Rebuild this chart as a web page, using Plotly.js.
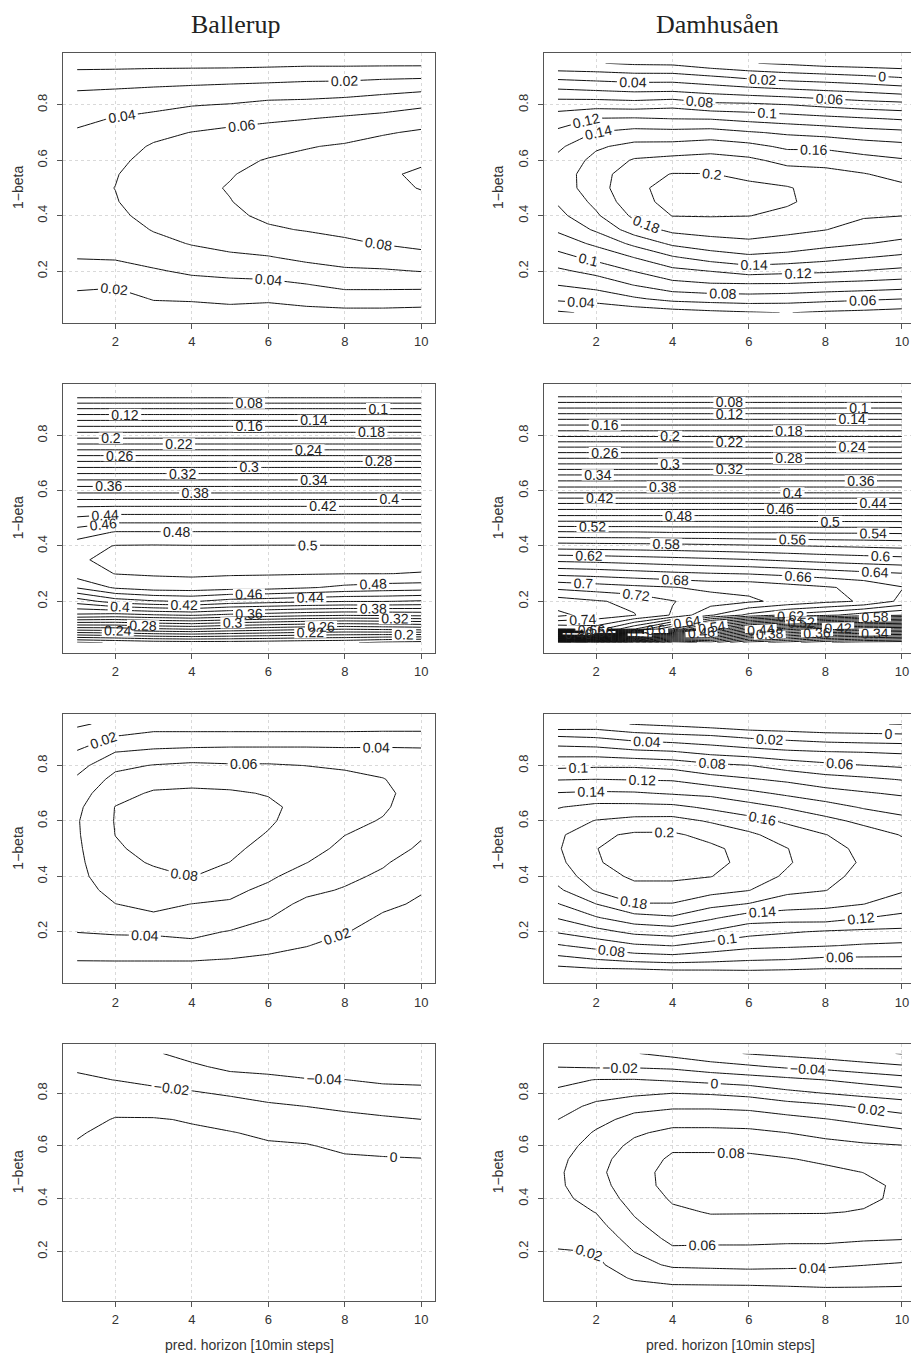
<!DOCTYPE html>
<html><head><meta charset="utf-8">
<script src="https://cdn.plot.ly/plotly-3.0.1.min.js"></script>
<style>html,body{margin:0;padding:0;background:#fff}#chart{width:911px;height:1358px}</style>
</head><body><div id="chart"></div>
<script>
// ---------------- data ----------------
const HORIZON = [1, 2, 3, 4, 5, 6, 7, 8, 9, 10];
const ONE_MINUS_BETA = [0.05, 0.10, 0.15, 0.20, 0.25, 0.30, 0.35, 0.40, 0.45, 0.50,
                        0.55, 0.60, 0.65, 0.70, 0.75, 0.80, 0.85, 0.90, 0.95];
const STATIONS = ['Ballerup', 'Damhusåen'];
const X_TICKS = [2, 4, 6, 8, 10];
const Y_TICKS = [0.2, 0.4, 0.6, 0.8];
const LEVEL_STEP = 0.02;
const X_TITLE = 'pred. horizon [10min steps]';
const Y_TITLE = '1\u2212beta';

// rows = 1-beta (0.05 .. 0.95), columns = horizon (1 .. 10)
const zBallerup1 = [
[0.006,0.006,0.012,0.012,0.014,0.012,0.014,0.015,0.015,0.014],
[0.015,0.013,0.021,0.022,0.024,0.023,0.027,0.030,0.030,0.029],
[0.0235,0.022,0.029,0.033,0.034,0.034,0.039,0.045,0.045,0.045],
[0.032,0.032,0.038,0.043,0.046,0.049,0.053,0.057,0.058,0.0605],
[0.041,0.042,0.047,0.053,0.057,0.059,0.064,0.068,0.070,0.075],
[0.045,0.048,0.055,0.061,0.065,0.069,0.073,0.077,0.081,0.084],
[0.049,0.052,0.061,0.067,0.072,0.078,0.081,0.084,0.088,0.090],
[0.052,0.056,0.066,0.072,0.077,0.083,0.086,0.090,0.093,0.094],
[0.054,0.059,0.069,0.075,0.0795,0.086,0.089,0.093,0.096,0.097],
[0.055,0.0602,0.070,0.076,0.081,0.087,0.090,0.094,0.097,0.1005],
[0.053,0.059,0.069,0.075,0.079,0.085,0.088,0.092,0.098,0.102],
[0.050,0.056,0.066,0.072,0.076,0.081,0.084,0.088,0.094,0.098],
[0.046,0.052,0.062,0.067,0.071,0.075,0.079,0.082,0.088,0.092],
[0.042,0.047,0.055,0.0605,0.064,0.067,0.070,0.073,0.078,0.083],
[0.036,0.041,0.045,0.050,0.054,0.057,0.0595,0.063,0.066,0.070],
[0.028,0.032,0.035,0.039,0.041,0.045,0.046,0.048,0.052,0.057],
[0.0202,0.022,0.024,0.026,0.028,0.030,0.031,0.033,0.036,0.039],
[0.007,0.008,0.010,0.011,0.012,0.013,0.015,0.015,0.017,0.018],
[-0.006,-0.006,-0.006,-0.006,-0.006,-0.005,-0.004,-0.004,-0.004,-0.004]
];
const zDamhus1 = [
[0.017,0.024,0.027,0.031,0.035,0.038,0.0405,0.037,0.035,0.032],
[0.044,0.047,0.057,0.066,0.069,0.071,0.069,0.066,0.063,0.0602],
[0.0603,0.067,0.0805,0.093,0.097,0.097,0.097,0.094,0.092,0.089],
[0.076,0.086,0.1005,0.114,0.1203,0.128,0.125,0.123,0.119,0.115],
[0.093,0.106,0.1205,0.138,0.149,0.156,0.153,0.147,0.141,0.136],
[0.109,0.124,0.145,0.164,0.172,0.176,0.172,0.166,0.161,0.156],
[0.123,0.143,0.170,0.185,0.188,0.189,0.185,0.1805,0.172,0.169],
[0.134,0.157,0.184,0.2005,0.201,0.2003,0.196,0.188,0.182,0.1802],
[0.142,0.165,0.193,0.206,0.208,0.207,0.202,0.194,0.189,0.187],
[0.149,0.171,0.196,0.206,0.208,0.204,0.2015,0.192,0.188,0.184],
[0.1495,0.171,0.192,0.2008,0.2005,0.196,0.189,0.186,0.181,0.174],
[0.145,0.166,0.182,0.186,0.188,0.184,0.174,0.173,0.167,0.162],
[0.136,0.157,0.166,0.167,0.171,0.166,0.156,0.156,0.150,0.146],
[0.124,0.141,0.147,0.146,0.148,0.142,0.137,0.133,0.128,0.125],
[0.110,0.121,0.122,0.1198,0.119,0.114,0.110,0.106,0.102,0.098],
[0.091,0.092,0.090,0.094,0.085,0.084,0.0805,0.075,0.070,0.067],
[0.064,0.061,0.058,0.059,0.054,0.049,0.045,0.041,0.037,0.032],
[0.035,0.032,0.029,0.029,0.023,0.016,0.011,0.008,0.004,-0.001],
[0.002,0.001,-0.003,-0.004,-0.013,-0.019,-0.023,-0.028,-0.030,-0.032]
];
const zBallerup2 = [
[0.136,0.142,0.148,0.150,0.150,0.148,0.145,0.143,0.135,0.130],
[0.250,0.252,0.258,0.262,0.255,0.250,0.245,0.242,0.245,0.248],
[0.356,0.352,0.358,0.362,0.355,0.350,0.345,0.342,0.343,0.345],
[0.409,0.430,0.438,0.442,0.432,0.428,0.424,0.421,0.421,0.418],
[0.462,0.483,0.490,0.491,0.488,0.487,0.482,0.476,0.472,0.470],
[0.490,0.5005,0.502,0.503,0.502,0.5015,0.501,0.5003,0.5002,0.4995],
[0.497,0.506,0.507,0.507,0.507,0.506,0.506,0.505,0.505,0.504],
[0.490,0.501,0.5015,0.501,0.501,0.5012,0.5012,0.501,0.5008,0.5008],
[0.469,0.4812,0.4812,0.4812,0.4812,0.4812,0.4812,0.4812,0.4812,0.4812],
[0.443,0.4497,0.4497,0.4497,0.4497,0.4497,0.4497,0.4497,0.4497,0.4497],
[0.4155,0.4155,0.4155,0.4155,0.4155,0.4155,0.4155,0.4155,0.4155,0.4155],
[0.373,0.373,0.373,0.373,0.373,0.373,0.373,0.373,0.373,0.373],
[0.3308,0.3308,0.3308,0.3308,0.3308,0.3308,0.3308,0.3308,0.3308,0.3308],
[0.2857,0.2857,0.2857,0.2857,0.2857,0.2857,0.2857,0.2857,0.2857,0.2857],
[0.238,0.238,0.238,0.238,0.238,0.238,0.238,0.238,0.238,0.238],
[0.1905,0.1905,0.1905,0.1905,0.1905,0.1905,0.1905,0.1905,0.1905,0.1905],
[0.144,0.144,0.144,0.144,0.144,0.144,0.144,0.144,0.144,0.144],
[0.097,0.097,0.097,0.097,0.097,0.097,0.097,0.097,0.097,0.097],
[0.046,0.046,0.046,0.046,0.046,0.046,0.046,0.046,0.046,0.046]
];
const zDamhus2 = [
[0.004,0.050,0.183,0.302,0.330,0.270,0.250,0.222,0.210,0.203],
[0.703,0.710,0.662,0.598,0.522,0.462,0.430,0.410,0.402,0.398],
[0.765,0.752,0.741,0.718,0.682,0.655,0.635,0.625,0.610,0.602],
[0.750,0.742,0.735,0.721,0.710,0.703,0.695,0.685,0.678,0.655],
[0.715,0.710,0.705,0.701,0.695,0.695,0.688,0.682,0.675,0.661],
[0.675,0.672,0.668,0.664,0.661,0.659,0.655,0.650,0.645,0.641],
[0.635,0.633,0.630,0.627,0.624,0.621,0.617,0.613,0.610,0.607],
[0.590,0.589,0.588,0.587,0.585,0.583,0.581,0.579,0.577,0.575],
[0.542,0.541,0.541,0.539,0.539,0.538,0.538,0.537,0.537,0.536],
[0.489,0.489,0.489,0.489,0.489,0.489,0.489,0.489,0.489,0.489],
[0.444,0.444,0.444,0.444,0.444,0.444,0.444,0.444,0.444,0.444],
[0.392,0.392,0.392,0.392,0.392,0.392,0.392,0.392,0.392,0.392],
[0.347,0.347,0.347,0.347,0.347,0.347,0.347,0.347,0.347,0.347],
[0.297,0.297,0.297,0.297,0.297,0.297,0.297,0.297,0.297,0.297],
[0.248,0.248,0.248,0.248,0.248,0.248,0.248,0.248,0.248,0.248],
[0.196,0.196,0.196,0.196,0.196,0.196,0.196,0.196,0.196,0.196],
[0.148,0.148,0.148,0.148,0.148,0.148,0.148,0.148,0.148,0.148],
[0.099,0.099,0.099,0.099,0.099,0.099,0.099,0.099,0.099,0.099],
[0.050,0.050,0.050,0.050,0.050,0.050,0.050,0.050,0.050,0.050]
];
const zBallerup3 = [
[0.010,0.012,0.012,0.012,0.011,0.009,0.007,0.005,0.004,0.003],
[0.021,0.021,0.021,0.021,0.0195,0.017,0.014,0.010,0.008,0.006],
[0.030,0.033,0.032,0.036,0.030,0.025,0.0205,0.015,0.012,0.009],
[0.0405,0.042,0.043,0.044,0.039,0.033,0.027,0.0207,0.015,0.012],
[0.045,0.052,0.057,0.052,0.050,0.0405,0.031,0.026,0.018,0.015],
[0.049,0.0598,0.064,0.0598,0.058,0.047,0.036,0.032,0.023,0.018],
[0.052,0.066,0.070,0.071,0.064,0.056,0.044,0.0385,0.030,0.021],
[0.055,0.071,0.076,0.0805,0.071,0.063,0.052,0.044,0.037,0.026],
[0.056,0.075,0.0815,0.085,0.0798,0.069,0.0603,0.051,0.042,0.031],
[0.057,0.078,0.085,0.088,0.084,0.074,0.066,0.056,0.049,0.037],
[0.058,0.0802,0.087,0.090,0.086,0.079,0.070,0.0602,0.055,0.042],
[0.0585,0.081,0.088,0.090,0.087,0.082,0.073,0.064,0.059,0.047],
[0.056,0.0805,0.087,0.088,0.086,0.083,0.075,0.066,0.062,0.052],
[0.051,0.074,0.082,0.083,0.082,0.079,0.073,0.066,0.063,0.054],
[0.043,0.066,0.073,0.075,0.074,0.072,0.068,0.064,0.0605,0.054],
[0.033,0.055,0.061,0.064,0.062,0.062,0.0598,0.058,0.056,0.051],
[0.021,0.0395,0.043,0.045,0.046,0.046,0.046,0.045,0.045,0.044],
[0.010,0.022,0.028,0.028,0.028,0.028,0.028,0.028,0.029,0.029],
[-0.003,0.005,0.010,0.010,0.010,0.010,0.010,0.010,0.010,0.010]
];
const zDamhus3 = [
[0.026,0.029,0.028,0.031,0.032,0.034,0.033,0.032,0.032,0.032],
[0.053,0.0598,0.066,0.069,0.066,0.062,0.0602,0.056,0.056,0.056],
[0.078,0.087,0.097,0.1005,0.092,0.085,0.083,0.081,0.078,0.076],
[0.102,0.113,0.125,0.129,0.118,0.107,0.102,0.098,0.096,0.095],
[0.121,0.138,0.152,0.157,0.143,0.129,0.128,0.129,0.1205,0.115],
[0.139,0.1598,0.179,0.179,0.166,0.159,0.149,0.145,0.1402,0.130],
[0.156,0.182,0.194,0.194,0.187,0.1805,0.165,0.1605,0.149,0.142],
[0.168,0.192,0.203,0.203,0.2005,0.190,0.177,0.165,0.155,0.147],
[0.175,0.198,0.209,0.209,0.205,0.195,0.182,0.168,0.158,0.148],
[0.178,0.1995,0.209,0.208,0.204,0.193,0.1805,0.166,0.156,0.146],
[0.176,0.196,0.203,0.203,0.194,0.184,0.170,0.1605,0.150,0.139],
[0.169,0.181,0.186,0.187,0.178,0.167,0.157,0.146,0.135,0.125],
[0.159,0.166,0.166,0.165,0.156,0.148,0.138,0.128,0.118,0.113],
[0.141,0.143,0.142,0.138,0.135,0.125,0.116,0.108,0.102,0.097],
[0.119,0.1202,0.119,0.118,0.108,0.102,0.096,0.088,0.084,0.079],
[0.095,0.097,0.097,0.093,0.085,0.0805,0.071,0.065,0.0605,0.057],
[0.071,0.070,0.064,0.061,0.053,0.048,0.043,0.0402,0.039,0.037],
[0.044,0.0405,0.033,0.029,0.026,0.019,0.015,0.011,0.009,0.008],
[0.004,0.007,-0.001,-0.005,-0.010,-0.015,-0.017,-0.019,-0.019,-0.0205]
];
const zBallerup4 = [
[0.015,0.016,0.016,0.016,0.016,0.016,0.017,0.016,0.016,0.016],
[0.015,0.016,0.016,0.016,0.016,0.016,0.016,0.016,0.015,0.015],
[0.014,0.015,0.015,0.015,0.015,0.015,0.015,0.015,0.014,0.014],
[0.013,0.014,0.014,0.014,0.014,0.014,0.014,0.013,0.013,0.013],
[0.012,0.013,0.013,0.013,0.013,0.013,0.013,0.012,0.012,0.012],
[0.011,0.012,0.012,0.012,0.012,0.012,0.011,0.011,0.011,0.011],
[0.010,0.011,0.011,0.011,0.011,0.010,0.010,0.010,0.009,0.009],
[0.009,0.010,0.010,0.010,0.009,0.009,0.008,0.008,0.007,0.007],
[0.007,0.009,0.009,0.008,0.008,0.008,0.007,0.006,0.005,0.005],
[0.005,0.008,0.008,0.007,0.007,0.007,0.006,0.004,0.003,0.003],
[0.003,0.006,0.007,0.006,0.005,0.005,0.004,0.002,0.001,0.0005],
[0.001,0.0045,0.005,0.004,0.003,0.002,0.001,-0.003,-0.004,-0.006],
[-0.001,0.003,0.004,0.002,0.0008,-0.003,-0.005,-0.009,-0.010,-0.013],
[-0.006,0.001,0.001,-0.001,-0.006,-0.010,-0.0125,-0.0155,-0.018,-0.0199],
[-0.0095,-0.005,-0.006,-0.0095,-0.0135,-0.0175,-0.0201,-0.023,-0.025,-0.027],
[-0.0135,-0.0125,-0.0155,-0.0185,-0.022,-0.026,-0.029,-0.031,-0.033,-0.0355],
[-0.0175,-0.0202,-0.024,-0.027,-0.033,-0.0355,-0.039,-0.0397,-0.043,-0.043],
[-0.022,-0.027,-0.031,-0.037,-0.044,-0.046,-0.048,-0.048,-0.051,-0.050],
[-0.026,-0.034,-0.038,-0.046,-0.053,-0.056,-0.057,-0.056,-0.059,-0.057]
];
const zDamhus4 = [
[0.004,0.006,0.011,0.012,0.012,0.012,0.014,0.016,0.016,0.016],
[0.009,0.011,0.022,0.028,0.029,0.030,0.030,0.030,0.029,0.027],
[0.014,0.016,0.033,0.043,0.044,0.045,0.044,0.043,0.0405,0.038],
[0.019,0.0203,0.0403,0.056,0.055,0.055,0.054,0.054,0.052,0.050],
[0.024,0.027,0.048,0.065,0.065,0.065,0.064,0.064,0.062,0.061],
[0.028,0.034,0.056,0.071,0.075,0.074,0.073,0.072,0.071,0.069],
[0.032,0.0405,0.062,0.077,0.081,0.081,0.081,0.081,0.079,0.074],
[0.035,0.047,0.068,0.082,0.086,0.086,0.085,0.085,0.083,0.077],
[0.037,0.052,0.072,0.086,0.089,0.089,0.087,0.086,0.084,0.077],
[0.037,0.055,0.073,0.086,0.089,0.088,0.086,0.084,0.0798,0.073],
[0.035,0.053,0.070,0.083,0.084,0.084,0.081,0.077,0.072,0.067],
[0.031,0.048,0.065,0.077,0.076,0.075,0.071,0.066,0.063,0.061],
[0.026,0.042,0.057,0.065,0.065,0.064,0.060,0.055,0.050,0.045],
[0.0199,0.034,0.046,0.052,0.052,0.051,0.046,0.041,0.035,0.028],
[0.013,0.024,0.034,0.037,0.037,0.035,0.029,0.024,0.017,0.011],
[0.004,0.013,0.016,0.0198,0.018,0.014,0.005,-0.0005,-0.006,-0.011],
[-0.0055,0.0007,0.001,-0.002,-0.006,-0.010,-0.015,-0.0201,-0.026,-0.032],
[-0.0205,-0.022,-0.022,-0.024,-0.031,-0.037,-0.043,-0.046,-0.052,-0.057],
[-0.034,-0.037,-0.039,-0.046,-0.055,-0.061,-0.065,-0.070,-0.075,-0.081]
];

// panel order: [row][column]
const PANELS = [
  [zBallerup1, zDamhus1],
  [zBallerup2, zDamhus2],
  [zBallerup3, zDamhus3],
  [zBallerup4, zDamhus4]
];

// ---------------- layout (pixels of the 911x1358 page) ----------------
const W = 911, H = 1358;
const COL_PX = [[63.3, 435], [544, 911]];
const ROW_PX = [[53.3, 322.7], [384, 652.7], [714, 983.3], [1044, 1300.7]];
const X_RANGES = [[0.64, 10.36], [0.64, 10.237]];
const Y_RANGE = [0.014, 0.986];
const SANS = 'Liberation Sans, Arial, Helvetica, sans-serif';
const SERIF = 'Liberation Serif, Times New Roman, serif';
const INK = '#222';
const FRAME = '#555';

const traces = [];
const layout = {
  width: W, height: H,
  margin: {l: 0, r: 0, t: 0, b: 0},
  paper_bgcolor: '#fff', plot_bgcolor: '#fff',
  showlegend: false,
  font: {family: SANS, color: INK},
  annotations: []
};

// split the contour levels of a panel into small groups (one trace each) so that
// Plotly puts about one label on every line, as R's contour() does
function levelChunks(z) {
  let lo = Infinity, hi = -Infinity;
  z.forEach(row => row.forEach(v => { if (v < lo) lo = v; if (v > hi) hi = v; }));
  const i0 = Math.ceil(lo / LEVEL_STEP - 1e-9), i1 = Math.floor(hi / LEVEL_STEP + 1e-9);
  const n = i1 - i0 + 1;
  const per = n > 14 ? 5 : 8;
  const chunks = [];
  for (let a = i0; a <= i1; a += per) {
    const b = Math.min(i1, a + per - 1);
    chunks.push([Number((a * LEVEL_STEP).toFixed(2)), Number((b * LEVEL_STEP).toFixed(2))]);
  }
  return chunks;
}

let k = 0;
PANELS.forEach((row, r) => {
  row.forEach((z, c) => {
    k += 1;
    const s = k === 1 ? '' : String(k);
    levelChunks(z).forEach(([a, b]) => {
      traces.push({
        type: 'contour',
        x: HORIZON, y: ONE_MINUS_BETA, z: z,
        xaxis: 'x' + s, yaxis: 'y' + s,
        autocontour: false,
        contours: {
          start: a, end: b + LEVEL_STEP / 10, size: LEVEL_STEP,
          coloring: 'lines', showlabels: true,
          labelformat: '.2~f',
          labelfont: {family: SANS, size: 14, color: INK}
        },
        colorscale: [[0, '#111'], [1, '#111']],
        showscale: false,
        line: {width: 1, smoothing: 0},
        hoverinfo: 'skip'
      });
    });
    const common = {
      ticks: 'outside', ticklen: 5, tickwidth: 1, tickcolor: FRAME,
      showline: true, linecolor: FRAME, linewidth: 1,
      showgrid: true, gridcolor: '#d9d9d9', griddash: 'dot', gridwidth: 1,
      zeroline: false, fixedrange: true,
      tickfont: {family: SANS, size: 13, color: '#333'}
    };
    layout['xaxis' + s] = Object.assign({}, common, {
      domain: [COL_PX[c][0] / W, COL_PX[c][1] / W],
      range: X_RANGES[c], anchor: 'y' + s,
      tickmode: 'array', tickvals: X_TICKS,
      ticklabelstandoff: 2,
      mirror: true
    });
    layout['yaxis' + s] = Object.assign({}, common, {
      domain: [1 - ROW_PX[r][1] / H, 1 - ROW_PX[r][0] / H],
      range: Y_RANGE, anchor: 'x' + s,
      tickmode: 'array', tickvals: Y_TICKS,
      tickangle: -90, ticklabelstandoff: 5,
      mirror: c === 0
    });
    layout.annotations.push({
      xref: 'paper', yref: 'paper',
      x: (c === 0 ? 18 : 498) / W, y: 1 - (ROW_PX[r][0] + ROW_PX[r][1]) / 2 / H,
      text: Y_TITLE, textangle: -90, showarrow: false,
      xanchor: 'center', yanchor: 'middle',
      font: {family: SANS, size: 14, color: '#333'}
    });
    if (r === PANELS.length - 1) {
      layout.annotations.push({
        xref: 'paper', yref: 'paper',
        x: (c === 0 ? 249 : 730) / W, y: 1 - 1345 / H,
        text: X_TITLE, showarrow: false,
        xanchor: 'center', yanchor: 'middle',
        font: {family: SANS, size: 14, color: '#333'}
      });
    }
  });
});

STATIONS.forEach((name, c) => {
  layout.annotations.push({
    xref: 'paper', yref: 'paper',
    x: (c === 0 ? 236 : 717) / W, y: 1 - 24 / H,
    text: name, showarrow: false,
    xanchor: 'center', yanchor: 'middle',
    font: {family: SERIF, size: 26, color: INK}
  });
});

Plotly.newPlot('chart', traces, layout, {staticPlot: true, displayModeBar: false});
</script>
</body></html>
